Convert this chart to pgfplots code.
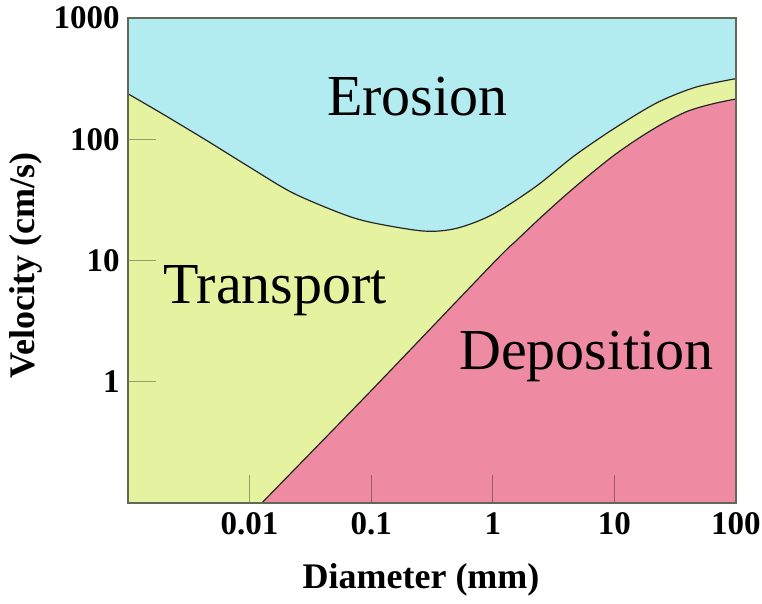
\documentclass[border=0pt]{standalone}
\usepackage{pgfplots}
\pgfplotsset{compat=1.18}
\usepgfplotslibrary{fillbetween}
\usepackage{fontspec}
\setmainfont{Liberation Serif}
\definecolor{erosion}{RGB}{178,236,240}
\definecolor{transport}{RGB}{229,242,160}
\definecolor{deposition}{RGB}{238,139,162}
\definecolor{frame}{RGB}{95,105,85}
\begin{document}
\begin{tikzpicture}
\begin{axis}[
  scale only axis, width=304pt, height=242.5pt,
  xmode=log, ymode=log,
  xmin=0.001, xmax=100, ymin=0.1, ymax=1000,
  axis background/.style={fill=transport},
  axis on top=true,
  axis line style={draw=frame, line width=0.8pt},
  tick pos=left, tick align=inside,
  major tick length=14pt, minor tick length=0pt,
  every tick/.style={black, opacity=0.35, line width=0.6pt},
  xtick={0.01,0.1,1,10,100},
  xticklabels={0.01,0.1,1,10,100},
  ytick={1,10,100,1000},
  yticklabels={1,10,100,\raisebox{-3.5pt}{1000}},
  ticklabel style={font=\fontsize{16.5}{18}\selectfont\bfseries},
  xticklabel style={inner sep=0pt, anchor=north, yshift=-4.5pt},
  yticklabel style={inner sep=0pt, anchor=east, xshift=-4pt},
  xlabel={Diameter (mm)},
  ylabel={Velocity (cm/s)},
  label style={font=\fontsize{18}{20}\selectfont\bfseries},
  xlabel style={at={(axis description cs:0.482,-0.177)}, anchor=base},
  ylabel style={at={(axis description cs:-0.168,0.49)}, anchor=center},
]
\addplot[name path=U, smooth, tension=0.5, black!85, line width=0.6pt] coordinates {
(0.001,237) (0.00186,165) (0.00427,100) (0.01,58.9) (0.0224,36.3) (0.0562,24.5)
(0.1,20.6) (0.269,17.5) (0.501,18.4) (1,24) (2.24,40.5) (4.68,73)
(10,123) (22.4,200) (46.8,269) (100,316)};
\addplot[name path=T, draw=none] coordinates {(0.001,1000) (100,1000)};
\addplot[erosion] fill between[of=U and T];
\addplot[name path=L, smooth, tension=0.5, black!85, line width=0.6pt] coordinates {
(0.0126,0.1) (0.1,0.845) (1,9.44) (1.585,14.8) (2.512,22.9) (3.98,34.7)
(6.31,51.3) (10,74.1) (15.85,102) (25.1,135) (39.8,170) (63.1,195) (100,215)};
\addplot[name path=B, draw=none] coordinates {(0.0126,0.1) (100,0.1)};
\addplot[deposition] fill between[of=L and B];
\node[anchor=base, font=\fontsize{29}{32}\selectfont] at (axis cs:0.24,158) {Erosion};
\node[anchor=base, font=\fontsize{29}{32}\selectfont] at (axis cs:0.0162,4.46) {Transport};
\node[anchor=base, font=\fontsize{29}{32}\selectfont] at (axis cs:5.9,1.25) {Deposition};
\end{axis}
\path (current axis.south west) ++(-64pt,-44.5pt) rectangle ++(381pt,296pt);
\end{tikzpicture}
\end{document}
